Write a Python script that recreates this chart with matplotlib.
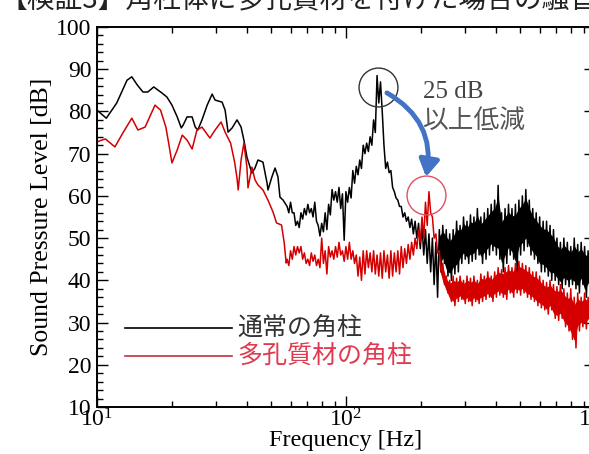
import numpy as np
import matplotlib
matplotlib.use("Agg")
import matplotlib.pyplot as plt
from matplotlib.ticker import MultipleLocator, LogLocator, NullFormatter

# ---------------- data ----------------
# single-line part of the spectra (Hz, dB)
black_low_freq = [10.0, 10.9, 12.0, 13.2, 13.8, 14.5, 15.3, 16.0, 16.9, 18.2, 19.1, 20.0,
                  21.0, 21.8, 22.2, 23.0, 24.1, 24.8, 25.4, 26.4, 27.7, 29.0, 29.8, 31.8,
                  32.7, 33.6, 34.9, 36.5, 37.9, 38.9, 40.0, 41.9, 43.1, 44.3, 46.4, 48.2,
                  48.6, 50.4, 51.9, 53.3, 54.3, 55.9]
black_low_db = [80.3, 78.4, 82.0, 87.4, 88.2, 86.3, 84.6, 84.6, 85.8, 84.4, 83.4, 81.5,
                78.7, 76.1, 76.8, 78.7, 78.7, 76.3, 75.6, 78.0, 81.5, 84.1, 82.7, 82.2,
                80.3, 75.1, 76.1, 78.0, 76.3, 73.2, 69.2, 65.4, 66.6, 68.5, 68.0, 63.0,
                61.4, 64.5, 66.6, 64.5, 59.7, 59.0]

red_low_freq = [10.0, 10.8, 11.8, 12.7, 13.8, 14.6, 15.6, 17.1, 18.0, 18.9, 19.4, 20.0,
                21.0, 22.0, 23.0, 24.1, 25.2, 26.4, 28.4, 29.8, 31.5, 32.7, 34.4, 35.7,
                36.5, 36.9, 37.9, 38.9, 40.0, 40.4, 41.9, 43.1, 44.3, 46.4, 48.6, 50.9,
                52.6, 55.1, 56.5, 57.5]
red_low_db = [72.8, 73.5, 71.6, 74.9, 78.4, 75.6, 76.3, 81.5, 80.3, 76.3, 72.5, 67.8,
              70.9, 74.4, 73.2, 71.1, 75.6, 76.3, 73.7, 75.6, 77.5, 75.1, 72.5, 68.0,
              64.2, 61.4, 68.5, 72.5, 66.8, 61.9, 66.8, 63.8, 62.6, 61.4, 59.0, 56.2,
              53.6, 53.1, 48.8, 44.1]

# dense (noisy) part, 58 Hz .. 1000 Hz: upper / lower excursions of the trace
band_freq_range = (58, 1000)
black_band_hi = [57.5, 58.5, 56, 54, 56, 57, 58, 57, 58.5, 53, 53.5, 56, 58, 61.5, 61,
                 62, 60.5, 61, 62, 66, 67, 68.5, 72, 72.5, 74, 78, 88.5, 87, 72, 68,
                 66, 61, 59, 57.5, 56, 55, 54.5, 54, 53.5, 53, 52, 51, 50, 49, 52,
                 53, 52, 51, 52, 54, 53, 55, 54, 55.5, 55, 57, 55, 56, 57, 58,
                 59, 62.5, 56, 57, 58, 57, 58, 59, 60, 61.5, 59, 57, 56, 55, 54,
                 54, 53, 52, 50, 49, 50, 49, 48, 50, 48.5, 49, 48, 47, 48, 47]
black_band_lo = [56, 56, 53, 52.5, 54.5, 55.5, 56, 55, 54, 50.5, 51.5, 52, 55.5, 59, 58.5,
                 57, 49.5, 58.5, 59.5, 63, 65, 66.5, 70, 70.5, 72, 75, 82, 80, 66.5, 65.5,
                 62, 59.5, 57.5, 55, 54, 52.5, 51, 50, 47.5, 46, 44, 42, 39, 36, 42,
                 44, 41, 40, 41.5, 42, 44, 45, 44, 44.5, 45, 46, 44, 45, 46, 47,
                 46, 45, 42, 44, 46, 45, 42, 46, 47, 48, 46, 45, 44, 42, 42,
                 41, 40, 40, 39, 38, 39, 38.5, 39, 38, 37, 39, 36, 38, 39, 38]
red_band_hi = [45, 47, 48, 48, 48, 46.5, 45, 46.5, 46, 45, 50, 47, 48, 47, 48,
               49, 47, 48, 49, 47, 46, 45.5, 47, 47, 46.5, 47, 46, 46.5, 47, 46,
               47, 46.5, 47, 48, 47.5, 48.5, 49, 50, 52, 55, 58.5, 61, 55, 51, 47,
               44, 41, 40, 41, 40.5, 41, 40, 41, 40.5, 41, 40, 41.5, 41, 42, 41,
               42, 43, 42.5, 43, 43.5, 43, 44, 44.5, 44, 43.5, 43, 42, 42, 41, 40,
               39.5, 40, 39, 38.5, 39, 38, 37, 38, 36, 37, 36, 37, 36, 35, 36]
red_band_lo = [43.5, 45, 46, 46.5, 45, 44, 43.5, 44.5, 43.5, 43, 44, 41.5, 45.5, 45, 45.5,
               46, 44.5, 45, 45, 44, 41, 40, 41.5, 43, 42, 41.5, 41, 40.5, 42, 40.5,
               41, 42, 41.5, 43, 44, 45, 46, 47.5, 49, 50, 53, 56, 50, 46.5, 42,
               39, 37, 35, 34, 35, 35.5, 34.5, 35, 34, 35, 34.5, 35, 35.5, 36, 35,
               36, 36.5, 36, 35.5, 37, 36, 37, 36.5, 37, 36, 35.5, 35, 34, 33.5, 33,
               32, 33, 31, 30.5, 31, 29, 28, 26, 24, 28, 29, 28.5, 30, 29, 30]

solid_band_from_hz = 235   # above this frequency the trace reads as a solid band

legend_labels = ["通常の角柱", "多孔質材の角柱"]
annotation_lines = ["25 dB", "以上低減"]
title_text = "【検証3】角柱体に多孔質材を付けた場合の騒音の低減効果"

# ---------------- helpers ----------------
def band_freqs(n):
    return np.geomspace(band_freq_range[0], band_freq_range[1], n)

def trace(low_f, low_db, hi, lo):
    n = len(hi)
    f = band_freqs(n)
    step = (band_freq_range[1] / band_freq_range[0]) ** (1.0 / (n - 1))
    fx = np.empty(2 * n)
    yy = np.empty(2 * n)
    fx[0::2] = f
    fx[1::2] = f * step ** 0.5
    yy[0::2] = hi
    yy[1::2] = lo
    return (np.concatenate([low_f, fx]), np.concatenate([low_db, yy]))

def fill_band(ax, hi, lo, color):
    f = band_freqs(len(hi))
    hi = np.asarray(hi, float)
    lo = np.asarray(lo, float)
    m = f >= solid_band_from_hz
    top = np.maximum(hi, lo)[m]
    bot = np.minimum(hi, lo)[m]
    # keep the band a little inside the spikes so the edges stay ragged
    mid = 0.5 * (top + bot)
    ax.fill_between(f[m], mid - 0.35 * (top - bot), mid + 0.35 * (top - bot),
                    color=color, lw=0)

# ---------------- figure ----------------
plt.rcParams['font.family'] = ['Liberation Serif', 'Noto Sans CJK JP', 'DejaVu Sans']
plt.rcParams['mathtext.fontset'] = 'custom'
plt.rcParams['mathtext.rm'] = 'Liberation Serif'
plt.rcParams['mathtext.it'] = 'Liberation Serif:italic'

W, H = 589, 454
fig = plt.figure(figsize=(W / 100, H / 100), dpi=100)
ax = fig.add_axes([97 / W, 47 / H, 498 / W, 380 / H])

bx, by = trace(black_low_freq, black_low_db, black_band_hi, black_band_lo)
rx, ry = trace(red_low_freq, red_low_db, red_band_hi, red_band_lo)
ax.plot(bx, by, color='black', lw=1.1)
fill_band(ax, black_band_hi, black_band_lo, 'black')
ax.plot(rx, ry, color='#d40000', lw=1.1)
fill_band(ax, red_band_hi, red_band_lo, '#d40000')

ax.set_xscale('log')
ax.set_xlim(10, 1000)
ax.set_ylim(10, 100)
ax.xaxis.set_major_locator(LogLocator(base=10))
ax.xaxis.set_minor_locator(LogLocator(base=10, subs=np.arange(2, 10)))
ax.xaxis.set_minor_formatter(NullFormatter())
ax.yaxis.set_major_locator(MultipleLocator(10))
ax.yaxis.set_minor_locator(MultipleLocator(2))
ax.tick_params(which='both', direction='in', top=True, right=True, labelsize=17, width=1)
ax.tick_params(which='major', length=8)
ax.tick_params(which='minor', length=4)
ax.tick_params(axis='y', pad=4)
ax.tick_params(axis='x', pad=1)
for s in ax.spines.values():
    s.set_linewidth(1.4)

ax.set_xlabel('Frequency [Hz]', fontsize=17.5, labelpad=-1.5)
ax.set_ylabel('Sound Pressure Level [dB]', fontsize=18.5, labelpad=2)

# legend drawn by hand
ax.plot([0.056, 0.271], [0.208, 0.208], transform=ax.transAxes, color='black', lw=1.2)
ax.plot([0.056, 0.271], [0.135, 0.135], transform=ax.transAxes, color='#c03040', lw=1.2)
ax.text(0.281, 0.208, legend_labels[0], transform=ax.transAxes, fontsize=18,
        family=['Noto Sans CJK JP'], color='#333333', va='center', ha='left')
ax.text(0.281, 0.135, legend_labels[1], transform=ax.transAxes, fontsize=18,
        family=['Noto Sans CJK JP'], color='#e03a50', va='center', ha='left')

# circles around the peaks
ax.plot([134.5], [85.8], marker='o', ms=28, mfc='none', mec='#333333', mew=1.0)
ax.plot([209.6], [60.2], marker='o', ms=28, mfc='none', mec='#e05060', mew=1.0)

# curved blue arrow
ax.annotate('', xy=(209.6, 64.5), xytext=(146.0, 84.4),
            arrowprops=dict(arrowstyle='-|>,head_length=1.0,head_width=0.6',
                            connectionstyle='arc3,rad=-0.35', color='#4472c4', lw=3.5,
                            shrinkA=0, shrinkB=0))

ax.text(0.655, 0.83, annotation_lines[0], transform=ax.transAxes, fontsize=18,
        color='#444444', va='center', ha='left', family=['Liberation Serif'])
ax.text(0.652, 0.752, annotation_lines[1], transform=ax.transAxes, fontsize=18.5,
        color='#555555', va='center', ha='left', family=['Noto Sans CJK JP'])

# clipped title strip at the very top
fig.text(0.0, 1 - 8 / H, title_text, fontsize=20, family=['Noto Sans CJK JP'],
         color='#222222', va='baseline', ha='left')

fig.savefig('out.png', dpi=100)
